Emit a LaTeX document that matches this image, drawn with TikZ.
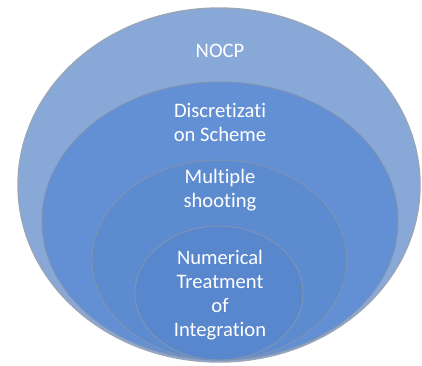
\documentclass[tikz,border=0pt]{standalone}
\usepackage{fontspec}
\setmainfont[Ligatures={NoCommon}]{Carlito}
\pgfdeclareradialshading[ringin,ringout]{glassring}{\pgfpoint{0bp}{0bp}}{%
  color(0bp)=(ringin); color(36bp)=(ringin); color(47bp)=(ringout); color(50bp)=(ringout)}
\definecolor{rimline}{HTML}{7E93B4}
\definecolor{outerrim}{HTML}{9AA6B8}
\tikzset{
  ring/.style={shading=glassring, draw=rimline, line width=1pt},
  label/.style={text=white, align=center, font=\fontsize{20.6}{24}\selectfont, inner sep=0pt}
}
\begin{document}
\begin{tikzpicture}[x=1pt,y=-1pt]
\useasboundingbox (0,0) rectangle (422,365);
% outer layer
\definecolor{ringin}{HTML}{88A8D8}\definecolor{ringout}{HTML}{A9C2EA}
\shade[ring, draw=outerrim, line width=1.4pt] (219,185) ellipse [x radius=201, y radius=177];
% second layer
\definecolor{ringin}{HTML}{6390D4}\definecolor{ringout}{HTML}{88ADE6}
\shade[ring] (220,221) ellipse [x radius=178, y radius=139];
% third layer
\definecolor{ringin}{HTML}{5D8BD0}\definecolor{ringout}{HTML}{84A9E2}
\shade[ring] (219.5,260) ellipse [x radius=127.5, y radius=100];
% innermost layer
\definecolor{ringin}{HTML}{5987CD}\definecolor{ringout}{HTML}{80A6E0}
\shade[ring] (219,293) ellipse [x radius=84, y radius=67];
% layer captions
\node[label] (nocp) at (220,51) {NOCP};
\node[label] (disc) at (220,122) {Discretizati\\on Scheme};
\node[label] (mult) at (220,190) {Multiple\\shooting};
\node[label] (numt) at (220,295) {Numerical\\Treatment\\of\\Integration};
\end{tikzpicture}
\end{document}
